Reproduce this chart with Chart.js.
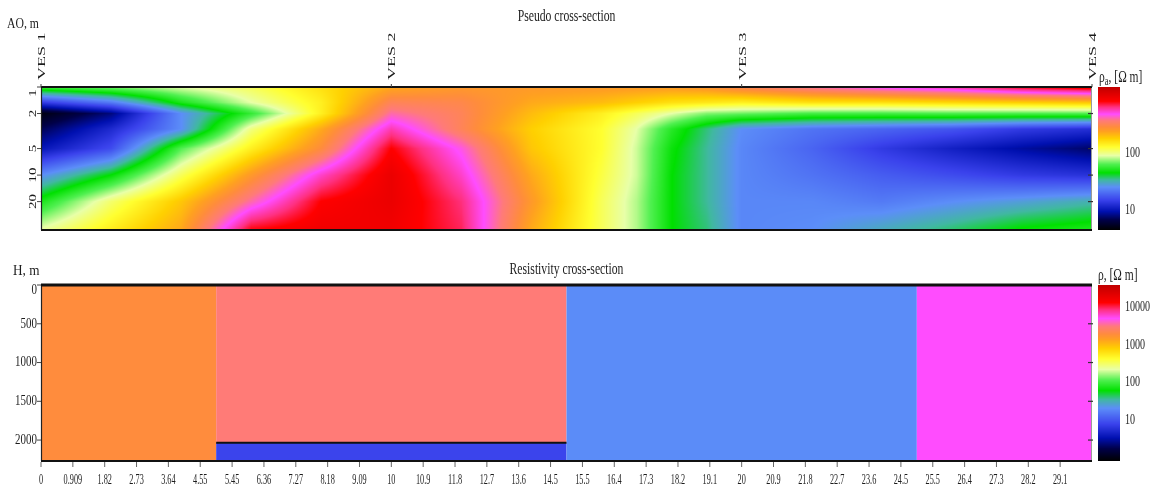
<!DOCTYPE html>
<html>
<head>
<meta charset="utf-8">
<title>Pseudo and resistivity cross-sections</title>
<script src="https://cdn.jsdelivr.net/npm/chart.js@4.4.1/dist/chart.umd.min.js"></script>
<style>
  html, body { margin: 0; padding: 0; background: #ffffff; }
  #wrap { position: relative; width: 1154px; height: 495px; overflow: hidden; }
  canvas { position: absolute; left: 0; }
  #pseudo { top: 0; }
  #model { top: 245px; }
</style>
</head>
<body>
<div id="wrap">
  <canvas id="pseudo" width="1154" height="245"></canvas>
  <canvas id="model" width="1154" height="250"></canvas>
</div>
<script>
// ---- Sounding stations along the profile ----
const vesNames = ['VES 1', 'VES 2', 'VES 3', 'VES 4'];
const vesPositions = [0, 10, 20, 30];

// ---- Pseudo cross-section: apparent resistivity (Ohm*m) ----
const profileX = [0, 2, 4, 6, 8, 10, 12, 14, 16, 17, 18, 19, 20, 22, 24, 26, 28, 30];
const spacingAO = [1, 1.5, 2, 3, 5, 10, 20, 40];
const rhoAO1   = [60, 71, 89, 112, 158, 224, 251, 251, 251, 251, 251, 266, 316, 398, 501, 596, 794, 944];
const rhoAO1_5 = [14, 22, 50, 89, 141, 316, 299, 224, 200, 178, 158, 150, 141, 158, 158, 168, 178, 188];
const rhoAO2   = [5, 8, 25, 56, 141, 398, 316, 200, 141, 112, 89, 71, 67, 60, 60, 62, 62, 63];
const rhoAO3   = [7, 12, 25, 100, 224, 562, 316, 178, 126, 89, 53, 36, 25, 21, 19, 17, 14, 12.6];
const rhoAO5   = [10, 16, 63, 141, 282, 794, 447, 188, 126, 84, 47, 34, 24, 19, 14, 11, 9, 7.5];
const rhoAO10  = [25, 45, 112, 251, 531, 944, 531, 224, 119, 84, 45, 34, 24, 21, 18, 16, 14, 13];
const rhoAO20  = [50, 106, 188, 398, 794, 944, 631, 251, 112, 79, 45, 34, 24, 24, 22, 25, 28, 32];
const rhoAO40  = [89, 141, 224, 750, 891, 891, 668, 224, 112, 79, 45, 36, 24, 25, 30, 36, 45, 50];
const aoTicks = [1, 2, 5, 10, 20];
const pseudoScaleLabels = [100, 10];

// ---- Resistivity cross-section: layered model ----
const layerLeft   = [0, 5, 5, 15, 25];
const layerRight  = [5, 15, 15, 25, 30];
const layerTop    = [0, 0, 2035, 0, 0];
const layerBottom = [2270, 2035, 2270, 2270, 2270];
const layerRho    = [1900, 3000, 8, 20, 5000];
const depthTicks = [0, 500, 1000, 1500, 2000];
const modelScaleLabels = [10000, 1000, 100, 10];
const distanceTicks = [0, 0.909, 1.818, 2.727, 3.636, 4.545, 5.455, 6.364, 7.273, 8.182, 9.091, 10,
  10.909, 11.818, 12.727, 13.636, 14.545, 15.455, 16.364, 17.273, 18.182, 19.091, 20,
  20.909, 21.818, 22.727, 23.636, 24.545, 25.455, 26.364, 27.273, 28.182, 29.091];
const distanceLabels = ['0', '0.909', '1.82', '2.73', '3.64', '4.55', '5.45', '6.36', '7.27', '8.18', '9.09', '10',
  '10.9', '11.8', '12.7', '13.6', '14.5', '15.5', '16.4', '17.3', '18.2', '19.1', '20',
  '20.9', '21.8', '22.7', '23.6', '24.5', '25.5', '26.4', '27.3', '28.2', '29.1'];

// ---- Colour scale (fraction 0 = bottom of colour bar, 1 = top) ----
const paletteStops = [
  [0.00, '#000000'], [0.07, '#000048'], [0.13, '#0010b0'], [0.21, '#3a42ec'],
  [0.30, '#5c8ef8'], [0.35, '#40b8a0'], [0.40, '#00e000'], [0.46, '#50f050'],
  [0.52, '#e8ffa8'], [0.58, '#ffff30'], [0.64, '#ffd000'], [0.69, '#ffa020'],
  [0.72, '#ff8c3c'], [0.765, '#ff7a7a'], [0.81, '#ff4cff'], [0.86, '#ff3080'],
  [0.90, '#ff0000'], [1.00, '#c00000']
];
const paletteRGB = paletteStops.map(([f, h]) => [f,
  parseInt(h.slice(1, 3), 16), parseInt(h.slice(3, 5), 16), parseInt(h.slice(5, 7), 16)]);

function colourAt(f) {
  if (!(f > 0)) f = 0;
  if (f > 1) f = 1;
  for (let i = 1; i < paletteRGB.length; i++) {
    const b = paletteRGB[i];
    if (f <= b[0]) {
      const a = paletteRGB[i - 1];
      const t = (f - a[0]) / (b[0] - a[0]);
      return [a[1] + (b[1] - a[1]) * t, a[2] + (b[2] - a[2]) * t, a[3] + (b[3] - a[3]) * t];
    }
  }
  const l = paletteRGB[paletteRGB.length - 1];
  return [l[1], l[2], l[3]];
}

// position of a resistivity value along the colour-bar scale, 0..1
function fractionOf(scale, v) {
  const p = scale.getPixelForValue(v);
  return (scale.bottom - p) / (scale.bottom - scale.top);
}
function cssColour(scale, v) {
  const c = colourAt(fractionOf(scale, v));
  return `rgb(${Math.round(c[0])},${Math.round(c[1])},${Math.round(c[2])})`;
}

const FONT = '"Liberation Serif", "Times New Roman", serif';
const INK = '#1c1c1c';

// squeeze narrows glyphs horizontally on screen, whatever the rotation
function text(ctx, str, x, y, o = {}) {
  ctx.save();
  ctx.translate(x, y);
  const sq = o.squeeze || 1;
  if (o.rotate) {
    ctx.scale(sq, 1);
    ctx.rotate(o.rotate);
  } else {
    ctx.scale(sq, 1);
  }
  ctx.font = `${o.size || 13}px ${FONT}`;
  ctx.fillStyle = o.color || INK;
  ctx.textAlign = o.align || 'center';
  ctx.textBaseline = o.baseline || 'middle';
  ctx.fillText(str, 0, 0);
  ctx.restore();
}

function hLine(ctx, x0, x1, y, w, c) {
  ctx.save(); ctx.strokeStyle = c; ctx.lineWidth = w;
  ctx.beginPath(); ctx.moveTo(x0, y); ctx.lineTo(x1, y); ctx.stroke(); ctx.restore();
}
function vLine(ctx, x, y0, y1, w, c) {
  ctx.save(); ctx.strokeStyle = c; ctx.lineWidth = w;
  ctx.beginPath(); ctx.moveTo(x, y0); ctx.lineTo(x, y1); ctx.stroke(); ctx.restore();
}

function drawColourBar(ctx, cb, x0, width) {
  const top = Math.round(cb.top), bottom = Math.round(cb.bottom);
  for (let py = top; py < bottom; py++) {
    ctx.fillStyle = cssColour(cb, cb.getValueForPixel(py + 0.5));
    ctx.fillRect(x0, py, width, 1);
  }
}

function drawUnitTitle(ctx, x, y, sub) {
  ctx.save();
  ctx.font = `16px ${FONT}`;
  ctx.fillStyle = INK;
  ctx.textBaseline = 'alphabetic';
  ctx.textAlign = 'left';
  ctx.translate(x, y);
  ctx.scale(0.72, 1);
  ctx.fillText('ρ', 0, 0);
  let w = ctx.measureText('ρ').width;
  if (sub) {
    ctx.font = `12px ${FONT}`;
    ctx.fillText(sub, w, 3);
    w += ctx.measureText(sub).width;
    ctx.font = `16px ${FONT}`;
  }
  ctx.fillText(', [Ω m]', w, 0);
  ctx.restore();
}

// ---- Pseudo-section field, coloured through the chart scales ----
const pseudoRows = [rhoAO1, rhoAO1_5, rhoAO2, rhoAO3, rhoAO5, rhoAO10, rhoAO20, rhoAO40];

function bracket(arr, v) {
  if (v <= arr[0]) return [0, 0];
  for (let i = 0; i < arr.length - 1; i++) {
    if (v <= arr[i + 1]) return [i, (v - arr[i]) / (arr[i + 1] - arr[i])];
  }
  return [arr.length - 2, 1];
}

const pseudoFieldPlugin = {
  id: 'pseudoField',
  beforeDatasetsDraw(chart) {
    const { ctx, chartArea: a, scales: { x, y, cb } } = chart;
    const left = Math.round(a.left), top = Math.round(a.top);
    const w = Math.round(a.right) - left, h = Math.round(a.bottom) - top;
    const logRows = pseudoRows.map(r => r.map(v => Math.log10(v)));
    const logAO = spacingAO.map(v => Math.log10(v));
    const cols = [];
    for (let i = 0; i < w; i++) cols.push(bracket(profileX, x.getValueForPixel(left + i + 0.5)));
    const img = ctx.createImageData(w, h);
    const lo = Math.log10(cb.min), hi = Math.log10(cb.max);
    for (let k = 0; k < h; k++) {
      const [r, s] = bracket(logAO, Math.log10(y.getValueForPixel(top + k + 0.5)));
      const rowA = logRows[r], rowB = logRows[r + 1];
      for (let i = 0; i < w; i++) {
        const [c, t] = cols[i];
        const va = rowA[c] + (rowA[c + 1] - rowA[c]) * t;
        const vb = rowB[c] + (rowB[c + 1] - rowB[c]) * t;
        const lv = va + (vb - va) * s;
        const col = colourAt((lv - lo) / (hi - lo));
        const o = (k * w + i) * 4;
        img.data[o] = col[0]; img.data[o + 1] = col[1]; img.data[o + 2] = col[2]; img.data[o + 3] = 255;
      }
    }
    ctx.putImageData(img, left, top);
  }
};

const pseudoFramePlugin = {
  id: 'pseudoFrame',
  afterDraw(chart) {
    const { ctx, chartArea: a, scales: { x, y, cb } } = chart;
    // frame
    vLine(ctx, a.left + 0.5, a.top, a.bottom, 1.2, '#222');
    vLine(ctx, a.right - 0.5, a.top, a.bottom, 1, '#9a9a9a');
    hLine(ctx, a.left, a.right, a.top, 2, '#111');
    hLine(ctx, a.left, a.right, a.bottom, 2, '#111');
    // depth axis
    aoTicks.forEach(v => {
      const py = y.getPixelForValue(v);
      hLine(ctx, a.left - 4, a.left, py, 1, '#444');
      if (v !== aoTicks[0]) hLine(ctx, a.right - 4, a.right + 1, py, 1.2, '#333');
      text(ctx, String(v), a.left - 8, Math.max(py, a.top + 6), { rotate: -Math.PI / 2, size: 15, squeeze: 0.72 });
    });
    text(ctx, 'AO, m', 7, 24, { align: 'left', size: 15, squeeze: 0.78 });
    // stations
    vesPositions.forEach((v, i) => {
      const px = x.getPixelForValue(v);
      vLine(ctx, px, a.top - 3, a.top, 1, '#444');
      text(ctx, vesNames[i], px + 1, a.top - 7, { rotate: -Math.PI / 2, align: 'left', size: 18, squeeze: 0.6 });
    });
    text(ctx, 'Pseudo cross-section', (a.left + a.right) / 2, 17, { size: 16, squeeze: 0.73 });
    // colour bar
    drawColourBar(ctx, cb, 1098, 22);
    pseudoScaleLabels.forEach(v => {
      text(ctx, String(v), 1125, cb.getPixelForValue(v), { align: 'left', size: 15, squeeze: 0.67 });
    });
    drawUnitTitle(ctx, 1099, 82, 'a');
  }
};

// ---- Resistivity cross-section blocks ----
const modelBlocksPlugin = {
  id: 'modelBlocks',
  beforeDatasetsDraw(chart) {
    const { ctx, scales: { x, y, cb } } = chart;
    layerRho.forEach((rho, i) => {
      const x0 = x.getPixelForValue(layerLeft[i]), x1 = x.getPixelForValue(layerRight[i]);
      const y0 = y.getPixelForValue(layerTop[i]), y1 = y.getPixelForValue(layerBottom[i]);
      ctx.fillStyle = cssColour(cb, rho);
      ctx.fillRect(x0, y0, x1 - x0, y1 - y0);
    });
  },
  afterDraw(chart) {
    const { ctx, chartArea: a, scales: { x, y, cb } } = chart;
    // layer boundaries below the surface
    layerTop.forEach((d, i) => {
      if (d > 0) hLine(ctx, x.getPixelForValue(layerLeft[i]), x.getPixelForValue(layerRight[i]), y.getPixelForValue(d), 2, '#111');
    });
    // frame
    vLine(ctx, a.left + 0.5, a.top, a.bottom, 1.2, '#222');
    vLine(ctx, a.right - 0.5, a.top, a.bottom, 1, '#9a9a9a');
    hLine(ctx, a.left, a.right, a.top, 3, '#111');
    hLine(ctx, a.left, a.right, a.bottom, 2, '#111');
    // depth axis
    depthTicks.forEach(v => {
      const py = y.getPixelForValue(v);
      hLine(ctx, a.left - 4, a.left, py, 1, '#444');
      if (v !== 0) hLine(ctx, a.right - 4, a.right + 1, py, 1.2, '#333');
      text(ctx, String(v), a.left - 4, Math.max(py, a.top + 5), { align: 'right', size: 15, squeeze: 0.73 });
    });
    text(ctx, 'H, m', 13, 26, { align: 'left', size: 15, squeeze: 0.88 });
    // distance axis
    distanceTicks.forEach((v, i) => {
      const px = x.getPixelForValue(v);
      vLine(ctx, px, a.bottom + 1, a.bottom + 6, 1, '#666');
      text(ctx, distanceLabels[i], px, a.bottom + 19, { size: 15, squeeze: 0.55 });
    });
    text(ctx, 'Resistivity cross-section', (a.left + a.right) / 2, 25, { size: 16, squeeze: 0.73 });
    // colour bar
    drawColourBar(ctx, cb, 1098, 22);
    modelScaleLabels.forEach(v => {
      text(ctx, String(v), 1125, cb.getPixelForValue(v), { align: 'left', size: 15, squeeze: 0.67 });
    });
    drawUnitTitle(ctx, 1098, 35, '');
  }
};

const common = {
  responsive: false,
  animation: false,
  events: [],
  plugins: { legend: { display: false }, tooltip: { enabled: false } }
};

new Chart(document.getElementById('pseudo'), {
  type: 'scatter',
  data: { datasets: [] },
  options: Object.assign({}, common, {
    layout: { padding: { left: 41, right: 62, top: 87, bottom: 15 } },
    scales: {
      x: { type: 'linear', min: 0, max: 30, display: false },
      y: { type: 'logarithmic', reverse: true, min: 1, max: 42, display: false },
      cb: { type: 'logarithmic', axis: 'y', position: 'right', min: 4.5, max: 1400, display: false }
    }
  }),
  plugins: [pseudoFieldPlugin, pseudoFramePlugin]
});

new Chart(document.getElementById('model'), {
  type: 'scatter',
  data: { datasets: [] },
  options: Object.assign({}, common, {
    layout: { padding: { left: 41, right: 62, top: 40, bottom: 34 } },
    scales: {
      x: { type: 'linear', min: 0, max: 30, display: false },
      y: { type: 'linear', reverse: true, min: 0, max: 2270, display: false },
      cb: { type: 'logarithmic', axis: 'y', position: 'right', min: 0.817, max: 38400, display: false }
    }
  }),
  plugins: [modelBlocksPlugin]
});
</script>
</body>
</html>
